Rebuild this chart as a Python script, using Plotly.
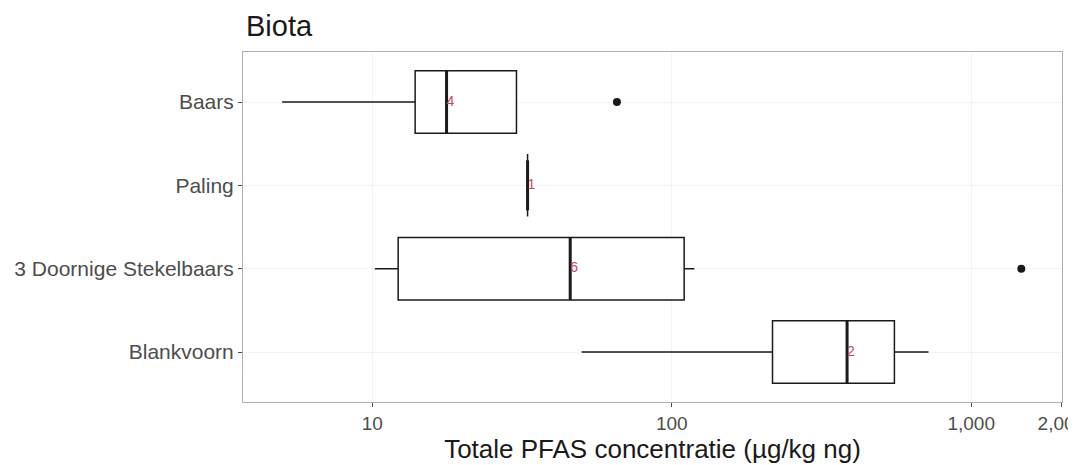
import numpy as np
import plotly.graph_objects as go

# categories top -> bottom
species = ["Baars", "Paling", "3 Doornige Stekelbaars", "Blankvoorn"]
counts = [4, 1, 6, 2]

# box statistics (µg/kg ng)
lower = [5.0, 33.0, 10.2, 50.0]
q1 = [13.9, 33.0, 12.2, 217.0]
median = [17.7, 33.0, 45.8, 385.0]
q3 = [30.3, 33.0, 110.0, 554.0]
upper = [30.3, 33.0, 119.0, 720.0]

outlier_species = ["Baars", "3 Doornige Stekelbaars"]
outlier_values = [65.6, 1470.0]

tick_vals = [10, 100, 1000, 2000]
tick_text = ["10", "100", "1,000", "2,000"]

pos = {s: len(species) - i for i, s in enumerate(species)}
ypos = [pos[s] for s in species]
half = 0.375

fig = go.Figure()

fig.add_trace(
    go.Box(
        y=ypos,
        q1=q1,
        median=median,
        q3=q3,
        lowerfence=lower,
        upperfence=upper,
        orientation="h",
        width=2 * half,
        fillcolor="white",
        line=dict(color="#1a1a1a", width=1.5),
        whiskerwidth=0,
        boxpoints=False,
        hoverinfo="skip",
        showlegend=False,
    )
)

# thicker median lines
mx, my = [], []
for i, (m, y) in enumerate(zip(median, ypos)):
    h = half if q1[i] != q3[i] else 0.3
    mx += [m, m, None]
    my += [y - h, y + h, None]
fig.add_trace(
    go.Scatter(
        x=mx, y=my, mode="lines",
        line=dict(color="#1a1a1a", width=3),
        showlegend=False, hoverinfo="skip",
    )
)

# outliers
fig.add_trace(
    go.Scatter(
        x=outlier_values,
        y=[pos[s] for s in outlier_species],
        mode="markers",
        marker=dict(color="#1a1a1a", size=8),
        showlegend=False,
    )
)

# counts next to the median
fig.add_trace(
    go.Scatter(
        x=median,
        y=ypos,
        mode="text",
        text=[str(c) for c in counts],
        textposition="middle right",
        textfont=dict(color="#c8475f", size=14, family="Liberation Sans"),
        showlegend=False,
    )
)

# page body has an 8px margin, so the figure is sized/offset for it
fig.update_layout(
    width=1068,
    height=457,
    margin=dict(l=235, r=14, t=44, b=63, autoexpand=False),
    paper_bgcolor="white",
    plot_bgcolor="white",
    font=dict(family="Liberation Sans", color="#4d4d4d"),
    title=dict(
        text="Biota",
        x=0, xref="paper", xanchor="left",
        y=0.962, yanchor="middle",
        font=dict(size=29, color="#1a1a1a"),
        pad=dict(l=3),
    ),
)

fig.update_xaxes(
    type="log",
    range=[np.log10(3.7), np.log10(2010)],
    tickvals=tick_vals,
    ticktext=tick_text,
    ticklabeloverflow="allow",
    ticks="outside",
    ticklen=4,
    tickcolor="#4d4d4d",
    tickfont=dict(size=19, color="#4d4d4d"),
    showgrid=True,
    gridcolor="#f3f3f3",
    zeroline=False,
    showline=True,
    linecolor="#b0b0b0",
    mirror=True,
    automargin=False,
    title=dict(
        text="Totale PFAS concentratie (µg/kg ng)",
        font=dict(size=26, color="#1a1a1a"),
        standoff=0,
    ),
)

fig.update_yaxes(
    range=[0.4, 4.6],
    tickvals=ypos,
    ticktext=species,
    ticks="outside",
    ticklen=4,
    tickcolor="#4d4d4d",
    tickfont=dict(size=21, color="#4d4d4d"),
    showgrid=True,
    gridcolor="#f3f3f3",
    zeroline=False,
    showline=True,
    linecolor="#b0b0b0",
    mirror=True,
    automargin=False,
)

fig.write_html("out.html")
